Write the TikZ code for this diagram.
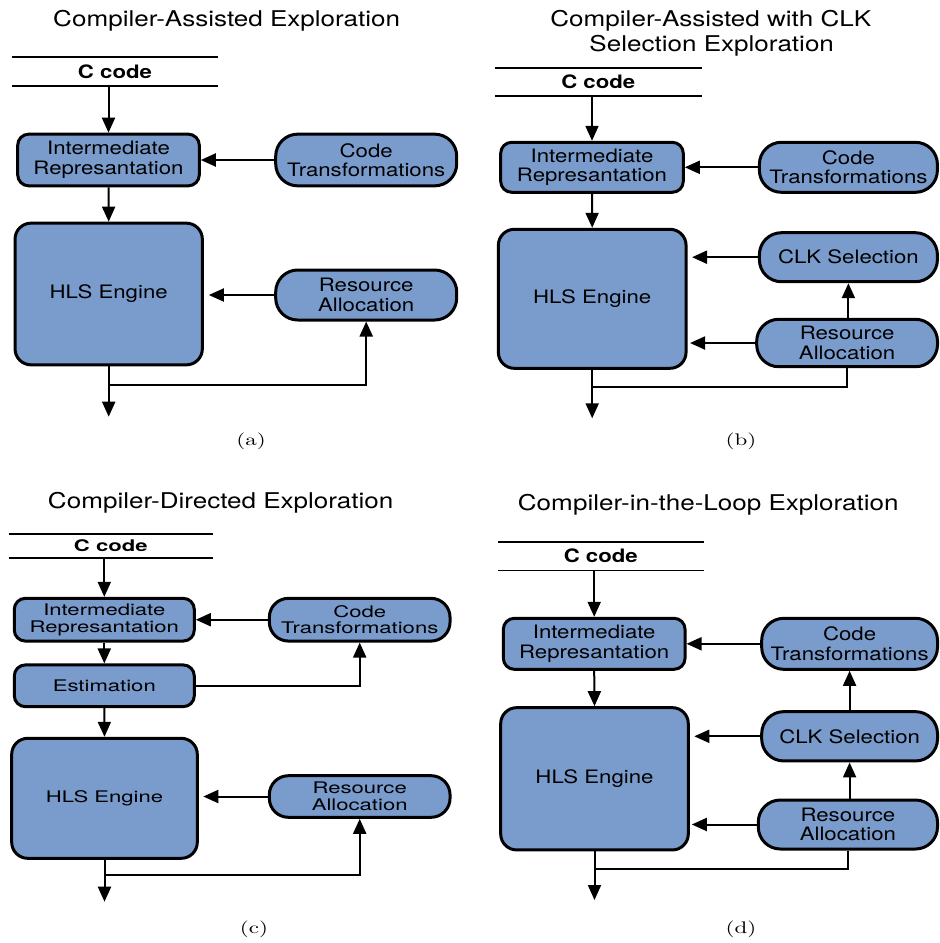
\documentclass[tikz,border=0pt]{standalone}
\usepackage{fontspec}
\newfontfamily\hv[FakeStretch=1.2]{TeX Gyre Heros}
\newfontfamily\hvc[FakeStretch=1.38]{TeX Gyre Heros}
\usetikzlibrary{arrows.meta}
\definecolor{boxblue}{RGB}{122,156,204}
% sub-figure labels: 10pt Latin Modern, enlarged
\newcommand{\sublabel}[1]{{\rmfamily\fontsize{10}{12}\selectfont\scalebox{2.3}[1.68]{#1}}}
\tikzset{
  blk/.style={draw=black, line width=3pt, fill=boxblue, align=center, inner sep=0pt},
  irbox/.style={blk, rounded corners=11pt},
  pill/.style={blk, rounded corners=22pt},
  hlsbox/.style={blk, rounded corners=16pt},
  txt/.style={font=\hv\fontsize{18.5}{19.5}\selectfont},
  txtc/.style={font=\hvc\fontsize{16}{16.7}\selectfont},
  ccode/.style={inner sep=0pt, font=\hv\bfseries\fontsize{18.5}{20}\selectfont},
  ccodec/.style={inner sep=0pt, font=\hvc\bfseries\fontsize{16}{18}\selectfont},
  bar/.style={line width=1.5pt},
  wire/.style={line width=2pt},
  arr/.style={line width=2pt, -{Triangle[length=15pt,width=13pt]}},
  ttl/.style={font=\hv\fontsize{21.7}{25}\selectfont, anchor=base},
  subcap/.style={anchor=base, inner sep=0pt},
}
\begin{document}
\begin{tikzpicture}[x=1pt, y=-1pt]
\useasboundingbox (0,0) rectangle (940,943);

% ---------- (a) Compiler-Assisted Exploration ----------
\node[ttl] (ta) at (226.7,26) {Compiler-Assisted Exploration};
\node[ccode, minimum width=206pt, minimum height=28.4pt] (ca) at (115,71.5) {C code};
\draw[bar] (ca.north west) -- (ca.north east);
\draw[bar] (ca.south west) -- (ca.south east);
\node[irbox, txt, minimum width=181.6pt, minimum height=51.7pt] (ira) at (108.5,160) {Intermediate\\Represantation};
\node[pill, txt, minimum width=181pt, minimum height=51.7pt] (cta) at (366.2,160) {Code\\Transformations};
\node[hlsbox, txt, minimum width=187.3pt, minimum height=141.7pt] (hlsa) at (108.7,294) {HLS Engine};
\node[pill, txt, minimum width=181pt, minimum height=50pt] (raa) at (366.2,295) {Resource\\Allocation};
\coordinate (ja) at (hlsa.south |- 0,385);
\coordinate (outa) at (hlsa.south |- 0,416.7);
\draw[arr] (ca.south -| ira.north) -- (ira.north);
\draw[arr] (cta.west) -- (ira.east);
\draw[arr] (ira.south) -- (hlsa.north);
\draw[arr, shorten >=5pt] (raa.west) -- (raa.west -| hlsa.east);
\draw[arr] (hlsa.south) -- (outa);
\draw[arr] (ja) -| (raa.south);
\node[subcap] (capa) at (251,445.5) {\sublabel{(a)}};

% ---------- (b) Compiler-Assisted with CLK Selection Exploration ----------
\node[ttl] (tb1) at (710.8,26.7) {Compiler-Assisted with CLK};
\node[ttl] (tb2) at (711.7,51.7) {Selection Exploration};
\node[ccode, minimum width=206.7pt, minimum height=27.4pt] (cb) at (598.3,82) {C code};
\draw[bar] (cb.north west) -- (cb.north east);
\draw[bar] (cb.south west) -- (cb.south east);
\node[irbox, txt, minimum width=182.6pt, minimum height=50pt] (irb) at (592,167.3) {Intermediate\\Represantation};
\node[pill, txt, minimum width=178pt, minimum height=50pt] (ctb) at (848.4,167.3) {Code\\Transformations};
\node[hlsbox, txt, minimum width=187.7pt, minimum height=139pt] (hlsb) at (592.2,298.8) {HLS Engine};
\node[pill, txt, minimum width=178pt, minimum height=49pt] (clkb) at (848.4,257.2) {CLK Selection};
\node[pill, txt, minimum width=180.8pt, minimum height=47.4pt] (rab) at (847.1,343) {Resource\\Allocation};
\coordinate (jb) at (hlsb.south |- 0,386.7);
\coordinate (outb) at (hlsb.south |- 0,418.3);
\draw[arr] (cb.south -| irb.north) -- (irb.north);
\draw[arr] (ctb.west) -- (irb.east);
\draw[arr] (irb.south) -- (hlsb.north);
\draw[arr, shorten >=4.5pt] (clkb.west) -- (clkb.west -| hlsb.east);
\draw[arr, shorten >=2.5pt] (rab.west) -- (rab.west -| hlsb.east);
\draw[arr] (rab.north -| clkb.south) -- (clkb.south);
\draw[arr] (hlsb.south) -- (outb);
\draw[wire] (rab.south) |- (jb);
\node[subcap] (capb) at (741,445.5) {\sublabel{(b)}};

% ---------- (c) Compiler-Directed Exploration ----------
\node[ttl] (tc) at (220.7,508.3) {Compiler-Directed Exploration};
\node[ccodec, minimum width=203.7pt, minimum height=23.7pt] (cc) at (110.8,545.8) {C code};
\draw[bar] (cc.north west) -- (cc.north east);
\draw[bar] (cc.south west) -- (cc.south east);
\node[irbox, txtc, minimum width=180pt, minimum height=42.7pt] (irc) at (104.3,619.7) {Intermediate\\Represantation};
\node[pill, txtc, rounded corners=19pt, minimum width=180.7pt, minimum height=42.7pt] (ctc) at (359.7,619.7) {Code\\Transformations};
\node[irbox, txtc, minimum width=180pt, minimum height=41.7pt] (estc) at (104.3,685.8) {Estimation};
\node[hlsbox, txtc, minimum width=185.6pt, minimum height=120pt] (hlsc) at (104.5,798.3) {HLS Engine};
\node[pill, txtc, rounded corners=19pt, minimum width=180.7pt, minimum height=41.6pt] (rac) at (359.7,796.5) {Resource\\Allocation};
\coordinate (jc) at (hlsc.south |- 0,875);
\coordinate (outc) at (hlsc.south |- 0,901.7);
\draw[arr] (cc.south -| irc.north) -- (irc.north);
\draw[arr] (ctc.west) -- (irc.east);
\draw[arr] (irc.south) -- (estc.north);
\draw[arr] (estc.east) -| (ctc.south);
\draw[arr] (estc.south) -- (hlsc.north);
\draw[arr, shorten >=4.5pt] (rac.west) -- (rac.west -| hlsc.east);
\draw[arr] (hlsc.south) -- (outc);
\draw[arr] (jc) -| (rac.south);
\node[subcap] (capc) at (254,933) {\sublabel{(c)}};

% ---------- (d) Compiler-in-the-Loop Exploration ----------
\node[ttl] (td) at (708.3,510) {Compiler-in-the-Loop Exploration};
\node[ccode, minimum width=205pt, minimum height=27.7pt] (cd) at (600.8,556.2) {C code};
\draw[bar] (cd.north west) -- (cd.north east);
\draw[bar] (cd.south west) -- (cd.south east);
\node[irbox, txt, minimum width=181.7pt, minimum height=51pt] (ird) at (594.2,643.8) {Intermediate\\Represantation};
\node[pill, txt, minimum width=175.8pt, minimum height=51pt] (ctd) at (849.6,643.8) {Code\\Transformations};
\node[hlsbox, txt, minimum width=187.6pt, minimum height=142.3pt] (hlsd) at (594.5,778.8) {HLS Engine};
\node[pill, txt, minimum width=175.8pt, minimum height=49.3pt] (clkd) at (849.6,736.3) {CLK Selection};
\node[pill, txt, minimum width=179.2pt, minimum height=49pt] (rad) at (847.9,824.5) {Resource\\Allocation};
\coordinate (jd) at (hlsd.south |- 0,869.3);
\coordinate (outd) at (hlsd.south |- 0,900);
\draw[arr] (cd.south -| ird.north) -- (ird.north);
\draw[arr] (ctd.west) -- (ird.east);
\draw[arr] (ird.south) -- (hlsd.north);
\draw[arr, shorten >=4.5pt] (clkd.west) -- (clkd.west -| hlsd.east);
\draw[arr, shorten >=2pt] (rad.west) -- (rad.west -| hlsd.east);
\draw[arr] (clkd.north) -- (ctd.south);
\draw[arr] (rad.north -| clkd.south) -- (clkd.south);
\draw[arr] (hlsd.south) -- (outd);
\draw[wire] (rad.south) |- (jd);
\node[subcap] (capd) at (741,933) {\sublabel{(d)}};
\end{tikzpicture}
\end{document}
